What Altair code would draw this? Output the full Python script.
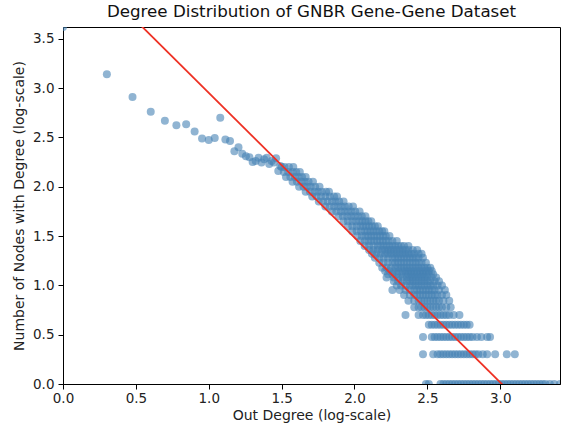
import altair as alt
import pandas as pd

# ---- data (log10 space) ----
head_x = [0.000, 0.301, 0.477, 0.602, 0.699, 0.778, 0.845, 0.903, 0.954, 1.000,
          1.041, 1.079, 1.114, 1.146, 1.176, 1.204, 1.230, 1.255, 1.279, 1.301,
          1.322, 1.342, 1.362, 1.380, 1.398, 1.415, 1.431, 1.447, 1.462, 1.477, 1.491]
head_y = [3.62, 3.14, 2.91, 2.76, 2.67, 2.625, 2.635, 2.56, 2.49, 2.475,
          2.495, 2.70, 2.48, 2.465, 2.36, 2.40, 2.335, 2.31, 2.30, 2.25,
          2.26, 2.295, 2.245, 2.28, 2.295, 2.23, 2.26, 2.245, 2.29, 2.16, 2.21]

# y level (log10 count) and the x positions (log10 degree) found at that level
band_y = [2.20, 2.15, 2.10, 2.05, 2.00, 1.95, 1.90, 1.85, 1.80, 1.75, 1.70, 1.65,
          1.60, 1.55, 1.50, 1.45, 1.40, 1.36, 1.32, 1.28, 1.23, 1.18, 1.146, 1.114,
          1.079, 1.041, 1.000, 0.954, 0.903, 0.845, 0.778, 0.699, 0.602, 0.477,
          0.301, 0.000]
band_x = [
    [1.50, 1.52, 1.55, 1.58],
    [1.515, 1.545, 1.575, 1.60, 1.625],
    [1.53, 1.56, 1.59, 1.615, 1.64, 1.665],
    [1.575, 1.605, 1.635, 1.66, 1.685, 1.715],
    [1.62, 1.65, 1.675, 1.70, 1.73, 1.76],
    [1.665, 1.695, 1.725, 1.75, 1.775, 1.805, 1.825],
    [1.71, 1.74, 1.77, 1.80, 1.83, 1.86, 1.88],
    [1.755, 1.785, 1.815, 1.845, 1.87, 1.895, 1.925],
    [1.80, 1.83, 1.86, 1.885, 1.91, 1.935, 1.96, 1.99],
    [1.845, 1.875, 1.905, 1.93, 1.955, 1.98, 2.005, 2.035],
    [1.89, 1.92, 1.95, 1.975, 2.00, 2.025, 2.05, 2.075],
    [1.925, 1.955, 1.985, 2.01, 2.035, 2.055, 2.075, 2.095, 2.115],
    [1.955, 1.985, 2.015, 2.04, 2.06, 2.08, 2.10, 2.12, 2.14, 2.16],
    [1.985, 2.015, 2.045, 2.07, 2.09, 2.11, 2.13, 2.15, 2.17, 2.19, 2.205],
    [2.02, 2.05, 2.075, 2.095, 2.115, 2.135, 2.155, 2.175, 2.195, 2.215, 2.24],
    [2.04, 2.07, 2.095, 2.115, 2.135, 2.155, 2.175, 2.195, 2.215, 2.235, 2.26, 2.29],
    [2.07, 2.10, 2.13, 2.16, 2.18, 2.20, 2.22, 2.24, 2.26, 2.28, 2.30, 2.32, 2.34, 2.37],
    [2.10, 2.13, 2.16, 2.19, 2.21, 2.23, 2.25, 2.27, 2.29, 2.31, 2.33, 2.35, 2.37, 2.40, 2.43],
    [2.12, 2.15, 2.18, 2.21, 2.23, 2.25, 2.27, 2.29, 2.31, 2.33, 2.35, 2.37, 2.39, 2.41, 2.44, 2.46],
    [2.14, 2.17, 2.20, 2.23, 2.26, 2.28, 2.30, 2.32, 2.34, 2.36, 2.38, 2.40, 2.42, 2.44, 2.47],
    [2.17, 2.20, 2.23, 2.26, 2.28, 2.30, 2.32, 2.34, 2.36, 2.38, 2.40, 2.42, 2.44, 2.46, 2.49],
    [2.19, 2.22, 2.25, 2.28, 2.30, 2.32, 2.34, 2.36, 2.38, 2.40, 2.42, 2.44, 2.46, 2.48, 2.50, 2.52],
    [2.21, 2.24, 2.27, 2.30, 2.33, 2.35, 2.37, 2.39, 2.41, 2.43, 2.45, 2.47, 2.49, 2.51, 2.53],
    [2.23, 2.26, 2.29, 2.32, 2.35, 2.37, 2.39, 2.41, 2.43, 2.45, 2.47, 2.49, 2.51, 2.54],
    [2.22, 2.27, 2.30, 2.33, 2.36, 2.38, 2.40, 2.42, 2.44, 2.46, 2.48, 2.50, 2.53, 2.56],
    [2.27, 2.30, 2.33, 2.36, 2.38, 2.40, 2.42, 2.44, 2.46, 2.48, 2.50, 2.52, 2.55, 2.58],
    [2.29, 2.32, 2.35, 2.38, 2.40, 2.42, 2.44, 2.46, 2.48, 2.50, 2.52, 2.54, 2.57, 2.60],
    [2.26, 2.31, 2.35, 2.38, 2.41, 2.43, 2.45, 2.47, 2.49, 2.51, 2.53, 2.55, 2.58, 2.62],
    [2.34, 2.38, 2.41, 2.43, 2.45, 2.47, 2.49, 2.51, 2.53, 2.55, 2.57, 2.60, 2.63],
    [2.37, 2.41, 2.44, 2.46, 2.48, 2.50, 2.52, 2.54, 2.56, 2.58, 2.61, 2.65],
    [2.41, 2.44, 2.46, 2.48, 2.50, 2.52, 2.54, 2.56, 2.58, 2.60, 2.63, 2.66],
    [2.35, 2.44, 2.47, 2.49, 2.51, 2.53, 2.55, 2.57, 2.59, 2.61, 2.63, 2.65, 2.68, 2.72],
    [2.51, 2.53, 2.55, 2.57, 2.59, 2.61, 2.63, 2.65, 2.67, 2.69, 2.71, 2.73, 2.75, 2.77, 2.79],
    [2.47, 2.53, 2.55, 2.57, 2.59, 2.61, 2.63, 2.65, 2.67, 2.69, 2.71, 2.73, 2.75, 2.77,
     2.79, 2.81, 2.84, 2.87, 2.91, 2.93],
    [2.47, 2.54, 2.57, 2.59, 2.61, 2.63, 2.65, 2.67, 2.69, 2.71, 2.73, 2.75, 2.77, 2.79,
     2.81, 2.83, 2.85, 2.88, 2.91, 2.965, 3.045, 3.10],
    [2.49, 2.51, 2.59, 2.61, 2.63, 2.65, 2.67, 2.69, 2.71, 2.73, 2.75, 2.77, 2.79, 2.81,
     2.83, 2.85, 2.87, 2.89, 2.91, 2.93, 2.95, 2.97, 2.99, 3.01, 3.03, 3.05, 3.07, 3.09,
     3.11, 3.13, 3.15, 3.17, 3.19, 3.21, 3.23, 3.25, 3.27, 3.29, 3.31, 3.34, 3.37, 3.41],
]

# fitted power-law line (log10 space)
fit_intercept = 4.42
fit_slope = -1.468

x_ticks = [0.0, 0.5, 1.0, 1.5, 2.0, 2.5, 3.0]
y_ticks = [0.0, 0.5, 1.0, 1.5, 2.0, 2.5, 3.0, 3.5]
x_max = 3.41
y_max = 3.62

# ---- build tables ----
rows = [{"x": a, "y": b} for a, b in zip(head_x, head_y)]
for yv, xs in zip(band_y, band_x):
    rows += [{"x": a, "y": yv} for a in xs]
pts = pd.DataFrame(rows)
fit = pd.DataFrame({"x": [0.0, x_max],
                    "y": [fit_intercept, fit_intercept + fit_slope * x_max]})

FONT = "DejaVu Sans"
xs = alt.Scale(domain=[0, x_max], nice=False, zero=False)
ys = alt.Scale(domain=[0, y_max], nice=False, zero=False)

xaxis = alt.Axis(values=x_ticks, format=".1f", title="Out Degree (log-scale)", grid=False,
                 domainColor="black", tickColor="black", tickSize=5, labelPadding=2,
                 labelFontSize=13.5, titleFontSize=14, titleFontWeight="normal",
                 labelColor="#222", titleColor="#222", labelFont=FONT, titleFont=FONT,
                 titlePadding=4, labelFlush=False)
yaxis = alt.Axis(values=y_ticks, format=".1f", title="Number of Nodes with Degree (log-scale)",
                 grid=False, domainColor="black", tickColor="black", tickSize=5,
                 labelPadding=4, labelFontSize=13.5, titleFontSize=14,
                 titleFontWeight="normal", labelColor="#222", titleColor="#222",
                 labelFont=FONT, titleFont=FONT, titlePadding=6, labelFlush=False)

points = alt.Chart(pts).mark_circle(size=64, color="#4682b4", opacity=0.6, clip=True).encode(
    x=alt.X("x:Q", scale=xs, axis=xaxis),
    y=alt.Y("y:Q", scale=ys, axis=yaxis),
)
line = alt.Chart(fit).mark_line(color="#ee3124", strokeWidth=1.8, clip=True).encode(
    x=alt.X("x:Q", scale=xs),
    y=alt.Y("y:Q", scale=ys),
)

chart = (points + line).properties(
    width=497, height=357,
    title=alt.TitleParams("Degree Distribution of GNBR Gene-Gene Dataset", font=FONT,
                          fontSize=16.7, fontWeight="normal", color="#111", offset=6),
    autosize=alt.AutoSizeParams(type="none"),
    padding={"left": 63, "top": 27, "right": 2, "bottom": 45},
).configure_view(stroke="black", strokeWidth=1)

chart.save("out.html", embed_options={"renderer": "svg", "actions": False})
